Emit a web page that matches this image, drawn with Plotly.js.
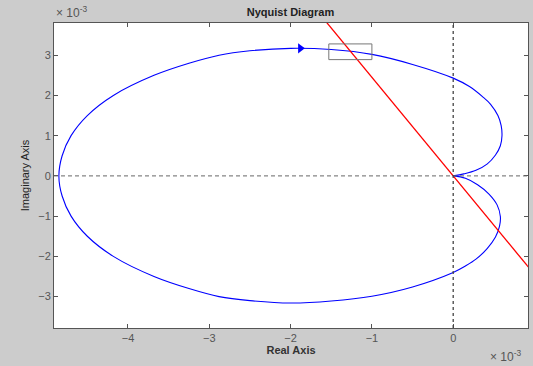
<!DOCTYPE html>
<html>
<head>
<meta charset="utf-8">
<script src="https://cdn.plot.ly/plotly-3.0.1.min.js"></script>
<style>html,body{margin:0;padding:0;background:#cccccc;}</style>
</head>
<body>
<div id="chart" style="width:533px;height:366px;"></div>
<script>
// Nyquist curve (units of 1e-3)
var upperRe = [-4.85, -4.81, -4.70, -4.50, -4.18, -3.68, -3.25, -2.88, -2.50, -2.00, -1.50, -1.00, -0.50, 0.00, 0.20, 0.36, 0.46, 0.55, 0.59, 0.60, 0.58, 0.52, 0.42, 0.28, 0.13, 0.00];
var upperIm = [0.00, 0.50, 1.00, 1.50, 2.00, 2.50, 2.80, 3.00, 3.11, 3.17, 3.14, 3.02, 2.77, 2.43, 2.22, 1.97, 1.78, 1.50, 1.25, 1.00, 0.75, 0.52, 0.30, 0.14, 0.05, 0.00];
var lowerRe = [0.00, 0.15, 0.30, 0.44, 0.54, 0.58, 0.57, 0.52, 0.42, 0.28, 0.15, 0.00, -0.50, -1.00, -1.50, -2.00, -2.50, -2.88, -3.25, -3.68, -4.18, -4.50, -4.70, -4.81, -4.85];
var lowerIm = [0.00, -0.06, -0.22, -0.45, -0.72, -1.01, -1.25, -1.52, -1.80, -2.07, -2.24, -2.40, -2.76, -2.99, -3.11, -3.16, -3.10, -3.00, -2.80, -2.50, -2.00, -1.50, -1.00, -0.50, 0.00];
// direction arrow
var arrowRe = [-1.88];
var arrowIm = [3.17];
// red straight line through the origin
var lineRe = [-2.0, 1.2];
var lineIm = [4.9, -2.94];
// small rectangle
var boxRe = [-1.53, -1.00];
var boxIm = [2.89, 3.28];
// ticks
var xTicks = [-4, -3, -2, -1, 0];
var yTicks = [-3, -2, -1, 0, 1, 2, 3];
var xRange = [-4.91, 0.92];
var yRange = [-3.78, 3.80];

var font = 'Arial, "Liberation Sans", sans-serif';

var traces = [
  {x: upperRe.concat(lowerRe), y: upperIm.concat(lowerIm), type: 'scatter', mode: 'lines',
   line: {color: '#0000ff', width: 1.1, shape: 'spline', smoothing: 1}, hoverinfo: 'skip'},
  {x: lineRe, y: lineIm, type: 'scatter', mode: 'lines',
   line: {color: '#ff0000', width: 1.3}, hoverinfo: 'skip'},
  {x: arrowRe, y: arrowIm, type: 'scatter', mode: 'markers',
   marker: {symbol: 'triangle-right', size: 9, color: '#0000ff'}, hoverinfo: 'skip'}
];

var layout = {
  width: 533, height: 366,
  paper_bgcolor: '#cccccc', plot_bgcolor: '#ffffff',
  margin: {l: 54, r: 5, t: 23, b: 38},
  showlegend: false,
  font: {family: font, size: 11, color: '#555555'},
  title: {text: '<b>Nyquist Diagram</b>', font: {family: font, size: 11, color: '#222222'},
          x: 0.545, xanchor: 'center', y: 1 - 12/366, yanchor: 'middle'},
  xaxis: {range: xRange, tickvals: xTicks, ticks: 'inside', ticklen: 4, tickcolor: '#555555',
          showline: true, linecolor: '#555555', linewidth: 1, mirror: 'allticks',
          showgrid: false, zeroline: false, automargin: false,
          tickfont: {family: font, size: 11, color: '#555555'},
          title: {text: '<b>Real Axis</b>', font: {family: font, size: 11, color: '#333333'}, standoff: 2}},
  yaxis: {range: yRange, tickvals: yTicks, ticks: 'inside', ticklen: 4, tickcolor: '#555555',
          showline: true, linecolor: '#555555', linewidth: 1, mirror: 'allticks',
          showgrid: false, zeroline: false, automargin: false,
          tickfont: {family: font, size: 11, color: '#555555'},
          title: {text: 'Imaginary Axis', font: {family: font, size: 11, color: '#222222'}, standoff: 6}},
  shapes: [
    {type: 'line', xref: 'paper', yref: 'y', x0: 0, x1: 1, y0: 0, y1: 0,
     line: {color: '#666666', width: 1, dash: '4px,3px'}},
    {type: 'line', xref: 'x', yref: 'paper', x0: 0, x1: 0, y0: 0, y1: 1,
     line: {color: '#444444', width: 1.3, dash: 'dot'}},
    {type: 'rect', xref: 'x', yref: 'y', x0: boxRe[0], x1: boxRe[1], y0: boxIm[0], y1: boxIm[1],
     line: {color: '#777777', width: 1}}
  ],
  annotations: [
    {text: '× 10<sup>-3</sup>', xref: 'paper', yref: 'paper', x: 0, y: 1, xanchor: 'left', yanchor: 'bottom',
     yshift: 1, showarrow: false, font: {family: font, size: 12, color: '#555555'}},
    {text: '× 10<sup>-3</sup>', xref: 'paper', yref: 'paper', x: 0.99, y: 0, xanchor: 'right', yanchor: 'top',
     yshift: -18, showarrow: false, font: {family: font, size: 12, color: '#555555'}}
  ]
};

Plotly.newPlot('chart', traces, layout, {staticPlot: true, displayModeBar: false});
</script>
</body>
</html>
